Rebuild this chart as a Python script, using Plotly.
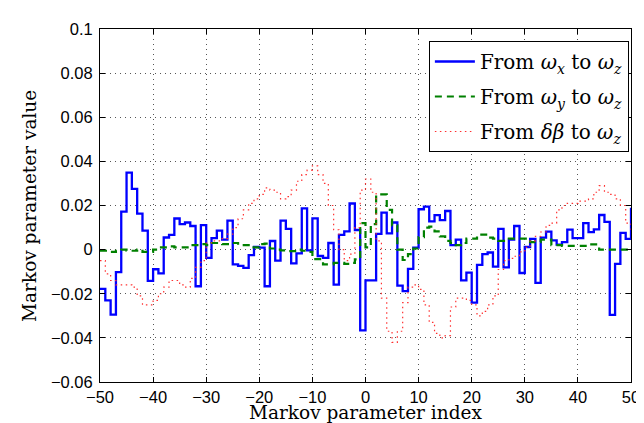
import plotly.graph_objects as go

index = list(range(-50, 51))

from_wx = [
    -0.0178, -0.0230, -0.0295, -0.0102, 0.0172, 0.0349, 0.0275, 0.0163, 0.0086, -0.0142,
    -0.0089, -0.0108, 0.0055, 0.0067, 0.0141, 0.0116, 0.0123, 0.0107, -0.0166, 0.0111,
    -0.0037, 0.0052, 0.0086, 0.0045, 0.0131, -0.0067, -0.0074, -0.0083, -0.0025, 0.0012,
    0.0009, -0.0166, 0.0039, -0.0050, 0.0131, 0.0094, -0.0062, -0.0017, 0.0187, -0.0003,
    0.0142, -0.0029, -0.0037, 0.0030, -0.0159, 0.0067, 0.0083, 0.0209, 0.0089, -0.0366,
    -0.0139, -0.0139, 0.0071, 0.0168, 0.0074, 0.0123, -0.0163, -0.0188, -0.0087, 0.0009,
    0.0183, 0.0195, 0.0128, 0.0156, 0.0134, 0.0175, 0.0020, 0.0045, -0.0139, -0.0104,
    -0.0240, -0.0069, -0.0020, -0.0013, -0.0077, 0.0094, -0.0080, 0.0045, 0.0107, -0.0106,
    0.0012, 0.0049, -0.0151, 0.0054, 0.0082, 0.0042, 0.0023, 0.0034, 0.0091, 0.0052,
    0.0052, 0.0120, 0.0079, 0.0092, 0.0157, 0.0126, -0.0296, -0.0065, 0.0076, 0.0049,
    0.0190,
]

from_wy = [
    -0.0005, -0.0005, -0.0010, -0.0005, 0.0000, -0.0005, -0.0005, 0.0000, -0.0010, -0.0010,
    0.0000, 0.0010, 0.0010, 0.0015, 0.0010, 0.0010, 0.0010, 0.0020, 0.0020, 0.0025,
    0.0020, 0.0030, 0.0030, 0.0025, 0.0025, 0.0030, 0.0020, 0.0020, 0.0010, 0.0010,
    0.0025, 0.0027, 0.0005, 0.0000, -0.0003, -0.0007, -0.0007, 0.0000, -0.0005, -0.0010,
    -0.0043, -0.0043, -0.0067, -0.0067, -0.0060, -0.0060, -0.0065, -0.0060, -0.0044, 0.0120,
    0.0010, 0.0116, 0.0250, 0.0250, 0.0180, 0.0110, 0.0000, -0.0047, -0.0020, 0.0005,
    0.0057, 0.0100, 0.0104, 0.0083, 0.0060, 0.0040, 0.0030, 0.0020, 0.0030, 0.0050,
    0.0050, 0.0068, 0.0068, 0.0054, 0.0050, 0.0040, 0.0040, 0.0050, 0.0050, 0.0050,
    0.0050, 0.0034, 0.0034, 0.0045, 0.0045, 0.0020, 0.0020, 0.0017, 0.0017, 0.0017,
    0.0017, 0.0017, 0.0024, 0.0024, 0.0000, 0.0000, 0.0000, 0.0000, 0.0000, 0.0000,
    0.0000,
]

from_db = [
    -0.005, -0.011, -0.014, -0.016, -0.016, -0.016, -0.017, -0.021, -0.025, -0.025,
    -0.023, -0.020, -0.017, -0.014, -0.014, -0.016, -0.017, -0.013, -0.008, -0.005,
    0.003, 0.004, 0.004, 0.005, 0.007, 0.010, 0.014, 0.018, 0.021, 0.023,
    0.025, 0.028, 0.027, 0.026, 0.023, 0.024, 0.027, 0.031, 0.034, 0.036,
    0.038, 0.034, 0.030, 0.020, 0.009, 0.000, -0.005, -0.002, 0.010, 0.027,
    0.032, 0.026, 0.004, -0.022, -0.037, -0.042, -0.037, -0.024, -0.017, -0.016,
    -0.018, -0.025, -0.033, -0.038, -0.040, -0.039, -0.026, -0.022, -0.022, -0.023,
    -0.025, -0.030, -0.028, -0.025, -0.021, -0.009, -0.005, -0.004, -0.003, -0.001,
    0.001, 0.004, 0.006, 0.008, 0.011, 0.012, 0.018, 0.020, 0.021, 0.021,
    0.022, 0.022, 0.023, 0.026, 0.029, 0.026, 0.025, 0.023, 0.020, 0.012,
    0.009,
]

x_ticks = [-50, -40, -30, -20, -10, 0, 10, 20, 30, 40, 50]
y_ticks = [-0.06, -0.04, -0.02, 0, 0.02, 0.04, 0.06, 0.08, 0.1]
y_tick_labels = ["\u22120.06", "\u22120.04", "\u22120.02", "0", "0.02", "0.04", "0.06", "0.08", "0.1"]
x_tick_labels = [("\u2212" + str(-t)) if t < 0 else str(t) for t in x_ticks]

x_title = "Markov parameter index"
y_title = "Markov parameter value"

names = [
    "From <i>ω</i><sub><i>x</i></sub> to <i>ω</i><sub><i>z</i></sub>",
    "From <i>ω</i><sub><i>y</i></sub> to <i>ω</i><sub><i>z</i></sub>",
    "From <i>δβ</i> to <i>ω</i><sub><i>z</i></sub>",
]

fig = go.Figure()
fig.add_trace(go.Scatter(x=index, y=from_wx, mode="lines", name=names[0], legendgroup="a",
                         line=dict(shape="hv", color="#0000ff", width=2.3)))
fig.add_trace(go.Scatter(x=index, y=from_wy, mode="lines", name=names[1], legendgroup="b",
                         line=dict(shape="hv", color="#008000", width=2.2, dash="7px,5px")))
fig.add_trace(go.Scatter(x=index, y=from_db, mode="lines", name=names[2], legendgroup="c",
                         line=dict(shape="hv", color="#ff3030", width=1.2, dash="1.5px,3.5px")))

axis_common = dict(
    showline=True, linecolor="black", linewidth=1, mirror="allticks",
    ticks="inside", ticklen=5, tickcolor="black", tickwidth=1,
    showgrid=True, gridcolor="#555555", gridwidth=1, griddash="1px,4px",
    zeroline=False,
    tickfont=dict(family="Liberation Sans, Arial, sans-serif", size=16.5, color="black"),
)

fig.update_xaxes(range=[-50, 50], tickvals=x_ticks, ticktext=x_tick_labels,
                 ticklabelstandoff=0, **axis_common)
fig.update_yaxes(range=[-0.06, 0.1], tickvals=y_ticks, ticktext=y_tick_labels,
                 ticklabelstandoff=3, **axis_common)

title_font = dict(family="DejaVu Serif, serif", size=18.5, color="black")
fig.add_annotation(text=x_title, xref="paper", yref="paper", x=0.5, y=-0.086,
                   xanchor="center", yanchor="middle", showarrow=False, font=title_font)
fig.add_annotation(text=y_title, xref="paper", yref="paper", x=-0.133, y=0.5,
                   xanchor="center", yanchor="middle", textangle=-90, showarrow=False,
                   font=title_font)

fig.update_layout(
    width=644, height=423,
    margin=dict(l=92, r=12, t=15, b=49),
    paper_bgcolor="white", plot_bgcolor="white",
    showlegend=True,
    legend=dict(
        x=0.996, y=0.966, xanchor="right", yanchor="top",
        bgcolor="white", bordercolor="black", borderwidth=1,
        font=dict(family="DejaVu Serif, serif", size=20, color="black"),
        tracegroupgap=6, itemwidth=40,
    ),
)

fig.write_html("out.html")
